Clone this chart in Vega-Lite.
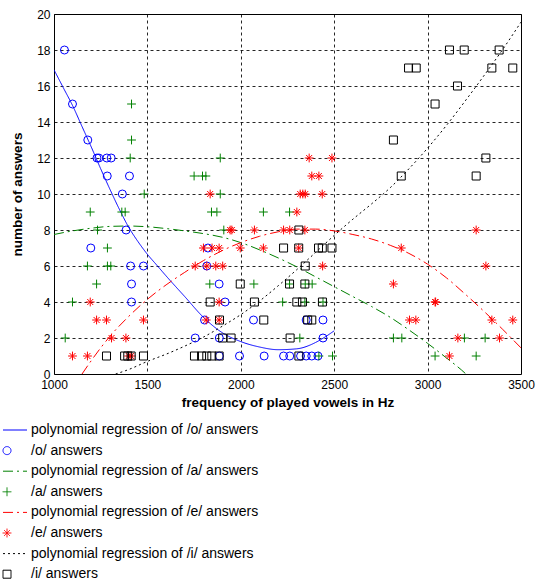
{
  "$schema": "https://vega.github.io/schema/vega-lite/v6.json",
  "width": 467,
  "height": 360,
  "autosize": {"type": "none"},
  "padding": {"left": 54, "top": 14, "right": 16, "bottom": 206},
  "background": "white",
  "datasets": {
    "curves": [
      {"s": "polynomial regression of /o/ answers", "f": 1000, "n": 16.9},
      {"s": "polynomial regression of /o/ answers", "f": 1050, "n": 15.9},
      {"s": "polynomial regression of /o/ answers", "f": 1100, "n": 14.9},
      {"s": "polynomial regression of /o/ answers", "f": 1150, "n": 13.75},
      {"s": "polynomial regression of /o/ answers", "f": 1200, "n": 12.6},
      {"s": "polynomial regression of /o/ answers", "f": 1250, "n": 11.4},
      {"s": "polynomial regression of /o/ answers", "f": 1300, "n": 10.25},
      {"s": "polynomial regression of /o/ answers", "f": 1350, "n": 9.15},
      {"s": "polynomial regression of /o/ answers", "f": 1400, "n": 8.15},
      {"s": "polynomial regression of /o/ answers", "f": 1450, "n": 7.35},
      {"s": "polynomial regression of /o/ answers", "f": 1500, "n": 6.65},
      {"s": "polynomial regression of /o/ answers", "f": 1550, "n": 6.05},
      {"s": "polynomial regression of /o/ answers", "f": 1600, "n": 5.45},
      {"s": "polynomial regression of /o/ answers", "f": 1700, "n": 4.3},
      {"s": "polynomial regression of /o/ answers", "f": 1800, "n": 3.15},
      {"s": "polynomial regression of /o/ answers", "f": 1900, "n": 2.3},
      {"s": "polynomial regression of /o/ answers", "f": 2000, "n": 1.8},
      {"s": "polynomial regression of /o/ answers", "f": 2100, "n": 1.5},
      {"s": "polynomial regression of /o/ answers", "f": 2200, "n": 1.35},
      {"s": "polynomial regression of /o/ answers", "f": 2300, "n": 1.4},
      {"s": "polynomial regression of /o/ answers", "f": 2400, "n": 1.75},
      {"s": "polynomial regression of /o/ answers", "f": 2450, "n": 2.05},
      {"s": "polynomial regression of /o/ answers", "f": 2500, "n": 2.4},
      {"s": "polynomial regression of /a/ answers", "f": 1000, "n": 7.75},
      {"s": "polynomial regression of /a/ answers", "f": 1100, "n": 7.95},
      {"s": "polynomial regression of /a/ answers", "f": 1200, "n": 8.1},
      {"s": "polynomial regression of /a/ answers", "f": 1300, "n": 8.2},
      {"s": "polynomial regression of /a/ answers", "f": 1400, "n": 8.22},
      {"s": "polynomial regression of /a/ answers", "f": 1500, "n": 8.18},
      {"s": "polynomial regression of /a/ answers", "f": 1600, "n": 8.08},
      {"s": "polynomial regression of /a/ answers", "f": 1700, "n": 7.95},
      {"s": "polynomial regression of /a/ answers", "f": 1800, "n": 7.8},
      {"s": "polynomial regression of /a/ answers", "f": 1900, "n": 7.6},
      {"s": "polynomial regression of /a/ answers", "f": 2000, "n": 7.3},
      {"s": "polynomial regression of /a/ answers", "f": 2100, "n": 6.9},
      {"s": "polynomial regression of /a/ answers", "f": 2200, "n": 6.45},
      {"s": "polynomial regression of /a/ answers", "f": 2300, "n": 5.95},
      {"s": "polynomial regression of /a/ answers", "f": 2400, "n": 5.4},
      {"s": "polynomial regression of /a/ answers", "f": 2500, "n": 4.85},
      {"s": "polynomial regression of /a/ answers", "f": 2600, "n": 4.3},
      {"s": "polynomial regression of /a/ answers", "f": 2700, "n": 3.75},
      {"s": "polynomial regression of /a/ answers", "f": 2800, "n": 3.15},
      {"s": "polynomial regression of /a/ answers", "f": 2900, "n": 2.45},
      {"s": "polynomial regression of /a/ answers", "f": 3000, "n": 1.7},
      {"s": "polynomial regression of /a/ answers", "f": 3100, "n": 0.9},
      {"s": "polynomial regression of /a/ answers", "f": 3200, "n": 0.05},
      {"s": "polynomial regression of /a/ answers", "f": 3220, "n": -0.15},
      {"s": "polynomial regression of /e/ answers", "f": 1150, "n": 0},
      {"s": "polynomial regression of /e/ answers", "f": 1200, "n": 0.75},
      {"s": "polynomial regression of /e/ answers", "f": 1300, "n": 2.1},
      {"s": "polynomial regression of /e/ answers", "f": 1400, "n": 3.2},
      {"s": "polynomial regression of /e/ answers", "f": 1500, "n": 4.15},
      {"s": "polynomial regression of /e/ answers", "f": 1600, "n": 4.95},
      {"s": "polynomial regression of /e/ answers", "f": 1700, "n": 5.65},
      {"s": "polynomial regression of /e/ answers", "f": 1800, "n": 6.3},
      {"s": "polynomial regression of /e/ answers", "f": 1900, "n": 6.85},
      {"s": "polynomial regression of /e/ answers", "f": 2000, "n": 7.3},
      {"s": "polynomial regression of /e/ answers", "f": 2100, "n": 7.65},
      {"s": "polynomial regression of /e/ answers", "f": 2200, "n": 7.9},
      {"s": "polynomial regression of /e/ answers", "f": 2300, "n": 8.05},
      {"s": "polynomial regression of /e/ answers", "f": 2400, "n": 8.05},
      {"s": "polynomial regression of /e/ answers", "f": 2500, "n": 7.95},
      {"s": "polynomial regression of /e/ answers", "f": 2600, "n": 7.75},
      {"s": "polynomial regression of /e/ answers", "f": 2700, "n": 7.5},
      {"s": "polynomial regression of /e/ answers", "f": 2800, "n": 7.15},
      {"s": "polynomial regression of /e/ answers", "f": 2900, "n": 6.7},
      {"s": "polynomial regression of /e/ answers", "f": 3000, "n": 6.1},
      {"s": "polynomial regression of /e/ answers", "f": 3100, "n": 5.35},
      {"s": "polynomial regression of /e/ answers", "f": 3200, "n": 4.45},
      {"s": "polynomial regression of /e/ answers", "f": 3300, "n": 3.5},
      {"s": "polynomial regression of /e/ answers", "f": 3400, "n": 2.5},
      {"s": "polynomial regression of /e/ answers", "f": 3500, "n": 1.45},
      {"s": "polynomial regression of /i/ answers", "f": 1330, "n": 0},
      {"s": "polynomial regression of /i/ answers", "f": 1400, "n": 0.25},
      {"s": "polynomial regression of /i/ answers", "f": 1500, "n": 0.7},
      {"s": "polynomial regression of /i/ answers", "f": 1600, "n": 1.1},
      {"s": "polynomial regression of /i/ answers", "f": 1700, "n": 1.55},
      {"s": "polynomial regression of /i/ answers", "f": 1800, "n": 2.05},
      {"s": "polynomial regression of /i/ answers", "f": 1900, "n": 2.65},
      {"s": "polynomial regression of /i/ answers", "f": 2000, "n": 3.3},
      {"s": "polynomial regression of /i/ answers", "f": 2100, "n": 4.05},
      {"s": "polynomial regression of /i/ answers", "f": 2200, "n": 4.9},
      {"s": "polynomial regression of /i/ answers", "f": 2300, "n": 5.8},
      {"s": "polynomial regression of /i/ answers", "f": 2400, "n": 6.75},
      {"s": "polynomial regression of /i/ answers", "f": 2500, "n": 7.7},
      {"s": "polynomial regression of /i/ answers", "f": 2600, "n": 8.6},
      {"s": "polynomial regression of /i/ answers", "f": 2700, "n": 9.45},
      {"s": "polynomial regression of /i/ answers", "f": 2800, "n": 10.35},
      {"s": "polynomial regression of /i/ answers", "f": 2900, "n": 11.4},
      {"s": "polynomial regression of /i/ answers", "f": 3000, "n": 12.55},
      {"s": "polynomial regression of /i/ answers", "f": 3100, "n": 13.8},
      {"s": "polynomial regression of /i/ answers", "f": 3200, "n": 15.15},
      {"s": "polynomial regression of /i/ answers", "f": 3300, "n": 16.55},
      {"s": "polynomial regression of /i/ answers", "f": 3400, "n": 18.0},
      {"s": "polynomial regression of /i/ answers", "f": 3500, "n": 19.55}
    ],
    "points": [
      {"s": "/o/ answers", "f": 1056, "n": 18},
      {"s": "/o/ answers", "f": 1099, "n": 15},
      {"s": "/o/ answers", "f": 1181, "n": 13},
      {"s": "/o/ answers", "f": 1230, "n": 12},
      {"s": "/o/ answers", "f": 1240, "n": 12},
      {"s": "/o/ answers", "f": 1283, "n": 12},
      {"s": "/o/ answers", "f": 1306, "n": 12},
      {"s": "/o/ answers", "f": 1285, "n": 11},
      {"s": "/o/ answers", "f": 1404, "n": 11},
      {"s": "/o/ answers", "f": 1366, "n": 10},
      {"s": "/o/ answers", "f": 1386, "n": 8},
      {"s": "/o/ answers", "f": 1197, "n": 7},
      {"s": "/o/ answers", "f": 1410, "n": 6},
      {"s": "/o/ answers", "f": 1479, "n": 6},
      {"s": "/o/ answers", "f": 1415, "n": 5},
      {"s": "/o/ answers", "f": 1415, "n": 4},
      {"s": "/o/ answers", "f": 1756, "n": 2},
      {"s": "/o/ answers", "f": 1806, "n": 3},
      {"s": "/o/ answers", "f": 1824, "n": 7},
      {"s": "/o/ answers", "f": 1818, "n": 6},
      {"s": "/o/ answers", "f": 1884, "n": 5},
      {"s": "/o/ answers", "f": 1916, "n": 4},
      {"s": "/o/ answers", "f": 1885, "n": 2},
      {"s": "/o/ answers", "f": 1885, "n": 1},
      {"s": "/o/ answers", "f": 1993, "n": 1},
      {"s": "/o/ answers", "f": 2068, "n": 3},
      {"s": "/o/ answers", "f": 2125, "n": 1},
      {"s": "/o/ answers", "f": 2229, "n": 1},
      {"s": "/o/ answers", "f": 2262, "n": 1},
      {"s": "/o/ answers", "f": 2320, "n": 1},
      {"s": "/o/ answers", "f": 2350, "n": 1},
      {"s": "/o/ answers", "f": 2380, "n": 1},
      {"s": "/o/ answers", "f": 2413, "n": 1},
      {"s": "/o/ answers", "f": 2350, "n": 3},
      {"s": "/o/ answers", "f": 2440, "n": 3},
      {"s": "/o/ answers", "f": 2440, "n": 2},
      {"s": "/a/ answers", "f": 1415, "n": 15},
      {"s": "/a/ answers", "f": 1415, "n": 13},
      {"s": "/a/ answers", "f": 1408, "n": 12},
      {"s": "/a/ answers", "f": 1483, "n": 10},
      {"s": "/a/ answers", "f": 1750, "n": 11},
      {"s": "/a/ answers", "f": 1795, "n": 11},
      {"s": "/a/ answers", "f": 1813, "n": 11},
      {"s": "/a/ answers", "f": 1890, "n": 12},
      {"s": "/a/ answers", "f": 1890, "n": 10},
      {"s": "/a/ answers", "f": 1194, "n": 9},
      {"s": "/a/ answers", "f": 1363, "n": 9},
      {"s": "/a/ answers", "f": 1381, "n": 9},
      {"s": "/a/ answers", "f": 1233, "n": 8},
      {"s": "/a/ answers", "f": 1286, "n": 7},
      {"s": "/a/ answers", "f": 1179, "n": 6},
      {"s": "/a/ answers", "f": 1286, "n": 6},
      {"s": "/a/ answers", "f": 1304, "n": 6},
      {"s": "/a/ answers", "f": 1228, "n": 5},
      {"s": "/a/ answers", "f": 1099, "n": 4},
      {"s": "/a/ answers", "f": 1060, "n": 2},
      {"s": "/a/ answers", "f": 1843, "n": 9},
      {"s": "/a/ answers", "f": 1872, "n": 9},
      {"s": "/a/ answers", "f": 1909, "n": 8},
      {"s": "/a/ answers", "f": 1834, "n": 5},
      {"s": "/a/ answers", "f": 2121, "n": 9},
      {"s": "/a/ answers", "f": 2261, "n": 9},
      {"s": "/a/ answers", "f": 2070, "n": 5},
      {"s": "/a/ answers", "f": 2261, "n": 5},
      {"s": "/a/ answers", "f": 2345, "n": 5},
      {"s": "/a/ answers", "f": 2382, "n": 5},
      {"s": "/a/ answers", "f": 2224, "n": 4},
      {"s": "/a/ answers", "f": 2343, "n": 4},
      {"s": "/a/ answers", "f": 2440, "n": 4},
      {"s": "/a/ answers", "f": 2316, "n": 2},
      {"s": "/a/ answers", "f": 2418, "n": 1},
      {"s": "/a/ answers", "f": 2491, "n": 1},
      {"s": "/a/ answers", "f": 2817, "n": 2},
      {"s": "/a/ answers", "f": 2862, "n": 2},
      {"s": "/a/ answers", "f": 3197, "n": 2},
      {"s": "/a/ answers", "f": 3308, "n": 2},
      {"s": "/a/ answers", "f": 3040, "n": 1},
      {"s": "/a/ answers", "f": 3260, "n": 1},
      {"s": "/e/ answers", "f": 1194, "n": 4},
      {"s": "/e/ answers", "f": 1228, "n": 3},
      {"s": "/e/ answers", "f": 1281, "n": 3},
      {"s": "/e/ answers", "f": 1479, "n": 3},
      {"s": "/e/ answers", "f": 1308, "n": 2},
      {"s": "/e/ answers", "f": 1385, "n": 2},
      {"s": "/e/ answers", "f": 1099, "n": 1},
      {"s": "/e/ answers", "f": 1179, "n": 1},
      {"s": "/e/ answers", "f": 1400, "n": 1},
      {"s": "/e/ answers", "f": 1413, "n": 1},
      {"s": "/e/ answers", "f": 1836, "n": 10},
      {"s": "/e/ answers", "f": 1943, "n": 8},
      {"s": "/e/ answers", "f": 1800, "n": 7},
      {"s": "/e/ answers", "f": 1846, "n": 7},
      {"s": "/e/ answers", "f": 1884, "n": 7},
      {"s": "/e/ answers", "f": 1997, "n": 7},
      {"s": "/e/ answers", "f": 1756, "n": 6},
      {"s": "/e/ answers", "f": 1818, "n": 6},
      {"s": "/e/ answers", "f": 1866, "n": 6},
      {"s": "/e/ answers", "f": 1903, "n": 6},
      {"s": "/e/ answers", "f": 1884, "n": 4},
      {"s": "/e/ answers", "f": 1815, "n": 3},
      {"s": "/e/ answers", "f": 1884, "n": 3},
      {"s": "/e/ answers", "f": 2366, "n": 12},
      {"s": "/e/ answers", "f": 2488, "n": 12},
      {"s": "/e/ answers", "f": 2380, "n": 11},
      {"s": "/e/ answers", "f": 2418, "n": 11},
      {"s": "/e/ answers", "f": 2318, "n": 10},
      {"s": "/e/ answers", "f": 2332, "n": 10},
      {"s": "/e/ answers", "f": 2345, "n": 10},
      {"s": "/e/ answers", "f": 2436, "n": 10},
      {"s": "/e/ answers", "f": 2300, "n": 9},
      {"s": "/e/ answers", "f": 1952, "n": 8},
      {"s": "/e/ answers", "f": 2073, "n": 8},
      {"s": "/e/ answers", "f": 2229, "n": 8},
      {"s": "/e/ answers", "f": 2262, "n": 8},
      {"s": "/e/ answers", "f": 2343, "n": 8},
      {"s": "/e/ answers", "f": 2121, "n": 7},
      {"s": "/e/ answers", "f": 2310, "n": 7},
      {"s": "/e/ answers", "f": 2438, "n": 6},
      {"s": "/e/ answers", "f": 3260, "n": 8},
      {"s": "/e/ answers", "f": 2859, "n": 7},
      {"s": "/e/ answers", "f": 3312, "n": 6},
      {"s": "/e/ answers", "f": 2817, "n": 5},
      {"s": "/e/ answers", "f": 3040, "n": 4},
      {"s": "/e/ answers", "f": 3043, "n": 4},
      {"s": "/e/ answers", "f": 2903, "n": 3},
      {"s": "/e/ answers", "f": 2937, "n": 3},
      {"s": "/e/ answers", "f": 3344, "n": 3},
      {"s": "/e/ answers", "f": 3456, "n": 3},
      {"s": "/e/ answers", "f": 3162, "n": 2},
      {"s": "/e/ answers", "f": 3385, "n": 2},
      {"s": "/e/ answers", "f": 3117, "n": 1},
      {"s": "/i/ answers", "f": 1281, "n": 1},
      {"s": "/i/ answers", "f": 1378, "n": 1},
      {"s": "/i/ answers", "f": 1395, "n": 1},
      {"s": "/i/ answers", "f": 1413, "n": 1},
      {"s": "/i/ answers", "f": 1479, "n": 1},
      {"s": "/i/ answers", "f": 1997, "n": 5},
      {"s": "/i/ answers", "f": 1836, "n": 4},
      {"s": "/i/ answers", "f": 1886, "n": 3},
      {"s": "/i/ answers", "f": 1903, "n": 2},
      {"s": "/i/ answers", "f": 1948, "n": 2},
      {"s": "/i/ answers", "f": 1752, "n": 1},
      {"s": "/i/ answers", "f": 1790, "n": 1},
      {"s": "/i/ answers", "f": 1818, "n": 1},
      {"s": "/i/ answers", "f": 1845, "n": 1},
      {"s": "/i/ answers", "f": 1884, "n": 1},
      {"s": "/i/ answers", "f": 2229, "n": 7},
      {"s": "/i/ answers", "f": 2310, "n": 7},
      {"s": "/i/ answers", "f": 2416, "n": 7},
      {"s": "/i/ answers", "f": 2436, "n": 7},
      {"s": "/i/ answers", "f": 2488, "n": 7},
      {"s": "/i/ answers", "f": 2311, "n": 8},
      {"s": "/i/ answers", "f": 2345, "n": 6},
      {"s": "/i/ answers", "f": 2261, "n": 5},
      {"s": "/i/ answers", "f": 2343, "n": 5},
      {"s": "/i/ answers", "f": 2073, "n": 4},
      {"s": "/i/ answers", "f": 2300, "n": 4},
      {"s": "/i/ answers", "f": 2330, "n": 4},
      {"s": "/i/ answers", "f": 2437, "n": 4},
      {"s": "/i/ answers", "f": 2123, "n": 3},
      {"s": "/i/ answers", "f": 2358, "n": 3},
      {"s": "/i/ answers", "f": 2380, "n": 3},
      {"s": "/i/ answers", "f": 2264, "n": 2},
      {"s": "/i/ answers", "f": 2311, "n": 1},
      {"s": "/i/ answers", "f": 3117, "n": 18},
      {"s": "/i/ answers", "f": 3196, "n": 18},
      {"s": "/i/ answers", "f": 3383, "n": 18},
      {"s": "/i/ answers", "f": 2898, "n": 17},
      {"s": "/i/ answers", "f": 2939, "n": 17},
      {"s": "/i/ answers", "f": 3344, "n": 17},
      {"s": "/i/ answers", "f": 3456, "n": 17},
      {"s": "/i/ answers", "f": 3160, "n": 16},
      {"s": "/i/ answers", "f": 3040, "n": 15},
      {"s": "/i/ answers", "f": 2817, "n": 13},
      {"s": "/i/ answers", "f": 3312, "n": 12},
      {"s": "/i/ answers", "f": 2859, "n": 11},
      {"s": "/i/ answers", "f": 3260, "n": 11}
    ]
  },
  "encoding": {
    "x": {
      "field": "f", "type": "quantitative",
      "scale": {"domain": [1000, 3500], "nice": false, "zero": false},
      "axis": {"title": "frequency of played vowels in Hz", "format": "d", "values": [1000, 1500, 2000, 2500, 3000, 3500], "labelPadding": 5, "titlePadding": 5}
    },
    "y": {
      "field": "n", "type": "quantitative",
      "scale": {"domain": [0, 20], "nice": false},
      "axis": {"title": "number of answers", "format": "d", "values": [0, 2, 4, 6, 8, 10, 12, 14, 16, 18, 20], "labelPadding": 4, "titlePadding": 12}
    }
  },
  "layer": [
    {
      "data": {"name": "curves"},
      "mark": {"type": "line", "strokeWidth": 1, "clip": true, "interpolate": "monotone"},
      "encoding": {
        "detail": {"field": "s"},
        "color": {
          "field": "s", "type": "nominal",
          "scale": {
            "domain": ["polynomial regression of /o/ answers", "/o/ answers", "polynomial regression of /a/ answers", "/a/ answers", "polynomial regression of /e/ answers", "/e/ answers", "polynomial regression of /i/ answers", "/i/ answers"],
            "range": ["#0000ff", "#0000ff", "#008000", "#008000", "#ff0000", "#ff0000", "#000000", "#000000"]
          },
          "legend": {"title": null}
        },
        "strokeDash": {
          "field": "s", "type": "nominal",
          "scale": {
            "domain": ["polynomial regression of /o/ answers", "/o/ answers", "polynomial regression of /a/ answers", "/a/ answers", "polynomial regression of /e/ answers", "/e/ answers", "polynomial regression of /i/ answers", "/i/ answers"],
            "range": [[1, 0], [1, 0], [10, 4, 2, 4], [1, 0], [10, 4, 2, 4], [1, 0], [2, 3], [1, 0]]
          },
          "legend": {"title": null}
        }
      }
    },
    {
      "data": {"name": "points"},
      "mark": {"type": "point", "filled": false, "opacity": 1, "strokeWidth": 1, "size": 64},
      "encoding": {
        "color": {
          "field": "s", "type": "nominal",
          "scale": {
            "domain": ["polynomial regression of /o/ answers", "/o/ answers", "polynomial regression of /a/ answers", "/a/ answers", "polynomial regression of /e/ answers", "/e/ answers", "polynomial regression of /i/ answers", "/i/ answers"],
            "range": ["#0000ff", "#0000ff", "#008000", "#008000", "#ff0000", "#ff0000", "#000000", "#000000"]
          },
          "legend": {"title": null}
        },
        "shape": {
          "field": "s", "type": "nominal",
          "scale": {
            "domain": ["polynomial regression of /o/ answers", "/o/ answers", "polynomial regression of /a/ answers", "/a/ answers", "polynomial regression of /e/ answers", "/e/ answers", "polynomial regression of /i/ answers", "/i/ answers"],
            "range": ["M-1,0L5,0", "circle", "M-1,0L5,0", "M-1.1,0L1.1,0M0,-1.1L0,1.1", "M-1,0L5,0", "M-1.1,0L1.1,0M0,-1.1L0,1.1M-0.75,-0.75L0.75,0.75M-0.75,0.75L0.75,-0.75", "M-1,0L5,0", "square"]
          },
          "legend": {"title": null}
        }
      }
    }
  ],
  "config": {
    "font": "Liberation Sans",
    "view": {"stroke": "#000000", "strokeWidth": 1},
    "axis": {
      "grid": true, "gridColor": "#000000", "gridDash": [3, 3], "gridWidth": 1, "gridOpacity": 0.85,
      "domain": false, "ticks": false,
      "labelFont": "Liberation Sans", "labelFontSize": 12, "labelColor": "#000000",
      "labelFlush": false, "labelOverlap": false,
      "titleFont": "Liberation Sans", "titleFontSize": 13.5, "titleFontWeight": "bold", "titleColor": "#000000"
    },
    "legend": {
      "orient": "none", "legendX": -54, "legendY": 409,
      "symbolSize": 64, "symbolStrokeWidth": 1, "symbolFillColor": "transparent",
      "labelFont": "Liberation Sans", "labelFontSize": 14, "labelColor": "#000000", "labelLimit": 0,
      "labelOffset": 17, "rowPadding": 6.6, "padding": 0, "symbolOpacity": 1
    }
  }
}
